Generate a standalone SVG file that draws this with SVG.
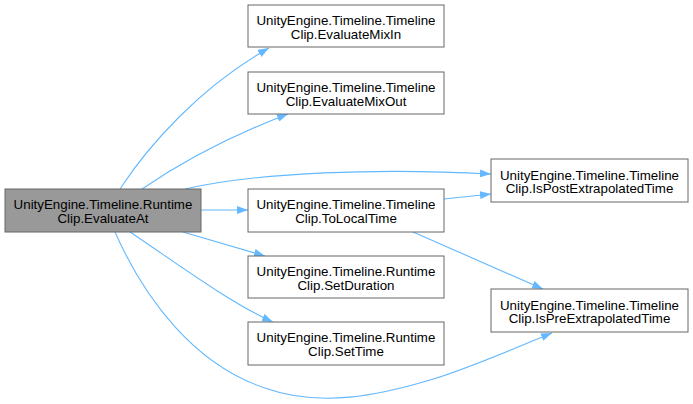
<svg xmlns="http://www.w3.org/2000/svg" width="693" height="404" viewBox="0 0 693 404">
<style>
.n rect{fill:#ffffff;stroke:#666666;stroke-width:1}
.n.main rect{fill:#999999}
.n text{font-family:"Liberation Sans",Arial,sans-serif;font-size:13.33px;fill:#000;text-anchor:middle}
.e path{fill:none;stroke:#63b8ff;stroke-width:1.1}
</style>
<defs>
<marker id="ah" viewBox="0 0 11 8" refX="11" refY="4" markerWidth="11" markerHeight="8" markerUnits="userSpaceOnUse" orient="auto">
<path d="M0,0 L11,4 L0,8 z" fill="#63b8ff"/>
</marker>
</defs>
<rect width="693" height="404" fill="#ffffff"/>
<g id="edges" class="e">
<path d="M120,189 C148,146 200,87 269,48" marker-end="url(#ah)"/>
<path d="M142,189 C180,163 230,136 288,114" marker-end="url(#ah)"/>
<path d="M185,189 C260,172 380,168 491,174" marker-end="url(#ah)"/>
<path d="M201,210 L248,210" marker-end="url(#ah)"/>
<path d="M183,232 L265,256" marker-end="url(#ah)"/>
<path d="M130,232 C175,262 230,303 273,322" marker-end="url(#ah)"/>
<path d="M115,232 C145,300 195,365 265,388 C320,408 380,395 430,380 C470,368 510,350 552,333" marker-end="url(#ah)"/>
<path d="M444,199 L491,194" marker-end="url(#ah)"/>
<path d="M413,232 L543,289" marker-end="url(#ah)"/>
</g>
<g id="n-evaluateat" class="n main">
<rect x="5" y="189" width="196" height="43"/>
<text x="103" y="209">UnityEngine.Timeline.Runtime</text>
<text x="103" y="222.5">Clip.EvaluateAt</text>
</g>
<g id="n-mixin" class="n">
<rect x="248" y="5" width="196" height="42"/>
<text x="346" y="25">UnityEngine.Timeline.Timeline</text>
<text x="346" y="38.5">Clip.EvaluateMixIn</text>
</g>
<g id="n-mixout" class="n">
<rect x="248" y="72" width="196" height="42"/>
<text x="346" y="92">UnityEngine.Timeline.Timeline</text>
<text x="346" y="105.5">Clip.EvaluateMixOut</text>
</g>
<g id="n-tolocaltime" class="n">
<rect x="248" y="189" width="196" height="43"/>
<text x="346" y="209">UnityEngine.Timeline.Timeline</text>
<text x="346" y="222.5">Clip.ToLocalTime</text>
</g>
<g id="n-setduration" class="n">
<rect x="248" y="256" width="196" height="42"/>
<text x="346" y="276">UnityEngine.Timeline.Runtime</text>
<text x="346" y="289.5">Clip.SetDuration</text>
</g>
<g id="n-settime" class="n">
<rect x="248" y="322" width="196" height="43"/>
<text x="346" y="342">UnityEngine.Timeline.Runtime</text>
<text x="346" y="355.5">Clip.SetTime</text>
</g>
<g id="n-ispost" class="n">
<rect x="491" y="159" width="197" height="43"/>
<text x="589.5" y="179.5">UnityEngine.Timeline.Timeline</text>
<text x="589.5" y="193">Clip.IsPostExtrapolatedTime</text>
</g>
<g id="n-ispre" class="n">
<rect x="491" y="289" width="197" height="43"/>
<text x="589.5" y="309.5">UnityEngine.Timeline.Timeline</text>
<text x="589.5" y="323">Clip.IsPreExtrapolatedTime</text>
</g>
</svg>
